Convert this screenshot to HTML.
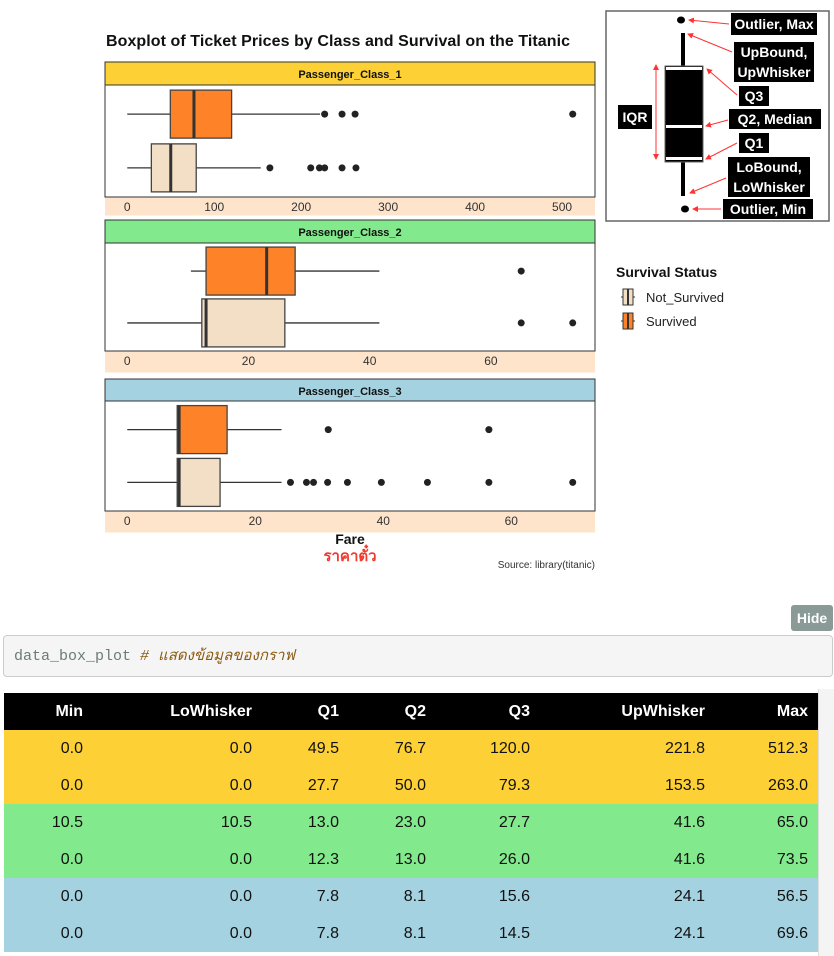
<!DOCTYPE html>
<html><head><meta charset="utf-8">
<style>
body{margin:0;width:834px;height:956px;background:#fff;font-family:"Liberation Sans",sans-serif;position:relative;overflow:hidden}
svg{position:absolute;left:0;top:0}
.hide{position:absolute;left:791px;top:605px;width:42px;height:26px;background:#8a9a97;color:#fff;border-radius:3px;font:bold 14px "Liberation Sans",sans-serif;line-height:26px;text-align:center}
.code{position:absolute;left:3px;top:635px;width:830px;height:42px;background:#f5f5f5;border:1px solid #ccc;border-radius:4px;box-sizing:border-box;font:15px "Liberation Mono","DejaVu Sans Mono",monospace;color:#6b7b78;line-height:42px;padding-left:10px}
.code i{color:#8a5a10}
table{position:absolute;left:4px;top:693px;width:814px;border-collapse:collapse;font:16px "Liberation Sans",sans-serif}
th{background:#000;color:#fff;height:37px;text-align:right;padding:0}
td{height:37px;text-align:right;padding:0;color:#111}
th:last-child,td:last-child{padding-right:10px}
.sb{position:absolute;left:818px;top:689px;width:16px;height:267px;background:#f4f4f4;border-left:1px solid #ddd}
</style></head><body>
<svg id="chart" width="834" height="600"></svg>
<div class="hide">Hide</div>
<div class="code">data_box_plot <i># แสดงข้อมูลของกราฟ</i></div>
<div class="sb"></div>
<table>
<colgroup><col style="width:79px"><col style="width:169px"><col style="width:87px"><col style="width:87px"><col style="width:104px"><col style="width:175px"><col style="width:113px"></colgroup>
<thead><tr><th>Min</th><th>LoWhisker</th><th>Q1</th><th>Q2</th><th>Q3</th><th>UpWhisker</th><th>Max</th></tr></thead>
<tbody id="tb"></tbody></table>
<script>
const classes=["Passenger_Class_1","Passenger_Class_2","Passenger_Class_3"];
const stripColors=["#fdd035","#83e98d","#a5d2e0"];
const survStats=[[0,49.5,76.7,120,221.8],[10.5,13,23,27.7,41.6],[0,7.8,8.1,15.6,24.1]];
const notStats=[[0,27.7,50,79.3,153.5],[0,12.3,13,26,41.6],[0,7.8,8.1,14.5,24.1]];
const survOut=[[227,247,262,512.3],[65],[31.4,56.5]];
const notOut=[[164,211,221,227,247,263],[65,73.5],[25.5,28,29.1,31.3,34.4,39.7,46.9,56.5,69.6]];
const ticks=[[0,100,200,300,400,500],[0,20,40,60],[0,20,40,60]];
const tableRows=[[0,0,49.5,76.7,120,221.8,512.3],[0,0,27.7,50,79.3,153.5,263],[10.5,10.5,13,23,27.7,41.6,65],[0,0,12.3,13,26,41.6,73.5],[0,0,7.8,8.1,15.6,24.1,56.5],[0,0,7.8,8.1,14.5,24.1,69.6]];

const NS="http://www.w3.org/2000/svg";
const svg=document.getElementById('chart');
function mk(t,a,p,txt){const e=document.createElementNS(NS,t);for(const k in a)e.setAttribute(k,a[k]);if(txt!==undefined)e.textContent=txt;(p||svg).appendChild(e);return e;}
const defs=mk('defs',{});
const mkr=mk('marker',{id:'ah',markerWidth:6,markerHeight:6,refX:5,refY:3,orient:'auto',markerUnits:'userSpaceOnUse'},defs);
mk('path',{d:'M0,0 L6,3 L0,6 z',fill:'#f33'},mkr);
const mkr2=mk('marker',{id:'ah2',markerWidth:6,markerHeight:6,refX:1,refY:3,orient:'auto-start-reverse',markerUnits:'userSpaceOnUse'},defs);
mk('path',{d:'M0,0 L6,3 L0,6 z',fill:'#f33'},mkr2);
let t=mk('text',{x:106,y:46,'font-size':16,'font-weight':'bold',fill:'#111',textLength:464},null,'Boxplot of Ticket Prices by Class and Survival on the Titanic');


const L=105,R=595;
const panels=[{s:62,p:85,b:197,e:215},{s:220,p:243,b:351,e:372},{s:379,p:401,b:511,e:532}];
panels.forEach((P,i)=>{
  const g=mk('g',{});
  
  
  const M=Math.max(...survOut[i],...notOut[i],survStats[i][4],notStats[i][4]);
  const x=v=>L+(R-L)*(v+0.05*M)/(1.1*M);
  const st=mk('rect',{x:L,y:P.s,width:R-L,height:P.p-P.s,fill:stripColors[i],stroke:'#333','stroke-width':1},g);
  
  
  mk('text',{x:(L+R)/2,y:P.s+16,'text-anchor':'middle','font-size':11,'font-weight':'bold',fill:'#111'},g,classes[i]);
  mk('rect',{x:L,y:P.p,width:R-L,height:P.b-P.p,fill:'#fff',stroke:'#333','stroke-width':1},g);
  mk('rect',{x:L,y:P.b+0.5,width:R-L,height:P.e-P.b,fill:'#fee4cb'},g);
  ticks[i].forEach(v=>{
    const tk=mk('text',{x:x(v),y:P.b+14,'text-anchor':'middle','font-size':12,fill:'#333'},g,String(v));
    
    
  });
  const h=P.b-P.p;
  [[survStats[i],survOut[i],'#fe8328',P.p+h*0.26,'survived'],[notStats[i],notOut[i],'#f3dfc6',P.p+h*0.74,'not-survived']].forEach(([s,o,c,cy,nm])=>{
    const bh=48;
    mk('line',{x1:x(s[0]),x2:x(s[1]),y1:cy,y2:cy,stroke:'#333','stroke-width':1.3},g);
    mk('line',{x1:x(s[3]),x2:x(s[4]),y1:cy,y2:cy,stroke:'#333','stroke-width':1.3},g);
    const b=mk('rect',{x:x(s[1]),y:cy-bh/2,width:x(s[3])-x(s[1]),height:bh,fill:c,stroke:'#444','stroke-width':1.3},g);
    
    
    mk('line',{x1:x(s[2]),x2:x(s[2]),y1:cy-bh/2,y2:cy+bh/2,stroke:'#333','stroke-width':3},g);
    o.forEach(v=>{
      const d=mk('circle',{cx:x(v),cy:cy,r:3.5,fill:'#222'},g);
      
      
    });
  });
});
t=mk('text',{x:350,y:544,'text-anchor':'middle','font-size':14,'font-weight':'bold',fill:'#111'},null,'Fare');


t=mk('text',{x:350,y:561,'text-anchor':'middle','font-size':15,'font-weight':'bold',fill:'#f03a2e','font-family':'"Liberation Sans","Noto Sans CJK SC",sans-serif'},null,'ราคาตั๋ว');


t=mk('text',{x:595,y:568,'text-anchor':'end','font-size':10,fill:'#333'},null,'Source: library(titanic)');


// legend
const lg=mk('g',{});


mk('text',{x:616,y:277,'font-size':14,'font-weight':'bold',fill:'#111'},lg,'Survival Status');
[['Not_Survived','#f3dfc6',297],['Survived','#fe8328',321]].forEach(([n,c,y])=>{
  mk('line',{x1:621,x2:635,y1:y,y2:y,stroke:'#333'},lg);
  mk('rect',{x:623,y:y-8,width:10,height:16,fill:c,stroke:'#333'},lg);
  mk('line',{x1:628,x2:628,y1:y-8,y2:y+8,stroke:'#333','stroke-width':2},lg);
  const e=mk('text',{x:646,y:y+5,'font-size':13,fill:'#222'},lg,n);
  
  
});
// diagram
const dg=mk('g',{});


mk('rect',{x:606,y:11,width:223,height:210,fill:'#fff',stroke:'#666','stroke-width':1.5},dg);
mk('line',{x1:683,x2:683,y1:33,y2:196,stroke:'#000','stroke-width':4},dg);
mk('rect',{x:665,y:66,width:38,height:96,fill:'#000',stroke:'#666'},dg);
[69,127,159].forEach(y=>mk('rect',{x:666,y:y-2,width:36,height:3,fill:'#fff'},dg));
mk('ellipse',{cx:681,cy:20,rx:4,ry:3.5,fill:'#000'},dg);
mk('ellipse',{cx:685,cy:209,rx:4,ry:3.5,fill:'#000'},dg);
mk('line',{x1:656,x2:656,y1:69,y2:159,stroke:'#f33','stroke-width':1,'marker-end':'url(#ah)','marker-start':'url(#ah2)'},dg);
const labs=[['Outlier, Max',731,13,86,22],['UpBound,',734,42,80,20],['UpWhisker',734,62,80,20],['Q3',739,86,30,20],['Q2, Median',729,109,92,20],['Q1',739,133,30,20],['LoBound,',728,157,82,20],['LoWhisker',728,177,82,20],['Outlier, Min',723,199,90,20],['IQR',618,105,34,24]];
labs.forEach(([s,x,y,w,h])=>{
  mk('rect',{x:x,y:y,width:w,height:h,fill:'#000'},dg);
  const e=mk('text',{x:x+w/2,y:y+h/2+5,'text-anchor':'middle','font-size':14,'font-weight':'bold',fill:'#fff'},dg,s);
  
  
});
[[729,24,689,20],[732,52,688,34],[737,95,707,69],[728,120,706,126],[737,143,706,159],[726,178,690,193],[721,209,693,209]].forEach(([x1,y1,x2,y2])=>mk('line',{x1,y1,x2,y2,stroke:'#f33','stroke-width':1,'marker-end':'url(#ah)'},dg));
// table
const rowColors=["#fdd035","#fdd035","#83e98d","#83e98d","#a5d2e0","#a5d2e0"];
const tb=document.getElementById('tb');
tableRows.forEach((r,i)=>{
  const tr=document.createElement('tr');
  
  
  tr.style.background=rowColors[i];
  r.forEach(v=>{const td=document.createElement('td');td.textContent=v.toFixed(1);tr.appendChild(td);});
  tb.appendChild(tr);
});
</script>
</body></html>
